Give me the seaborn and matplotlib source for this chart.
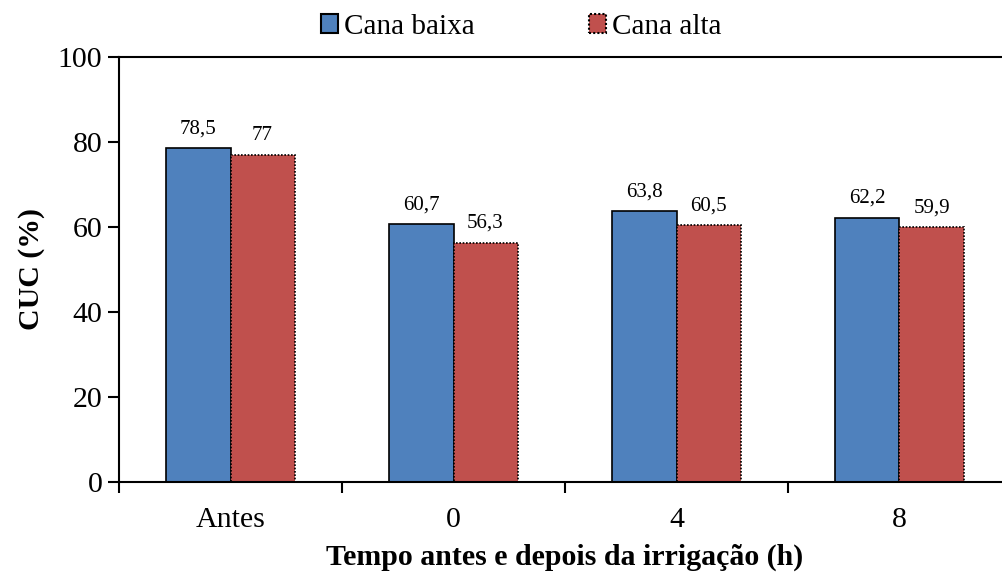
import numpy as np
import pandas as pd
import matplotlib
matplotlib.use("Agg")
import matplotlib.pyplot as plt
import seaborn as sns
from matplotlib.patches import Patch

# --- Data ---
categorias = ["Antes", "0", "4", "8"]
series = ["Cana baixa", "Cana alta"]
cana_baixa = [78.5, 60.7, 63.8, 62.2]
cana_alta = [77.0, 56.3, 60.5, 59.9]

df = pd.DataFrame({
    "tempo": categorias * 2,
    "serie": [series[0]] * 4 + [series[1]] * 4,
    "cuc": cana_baixa + cana_alta,
})

sns.set_theme(style="white")
plt.rcParams['font.family'] = ['Liberation Serif', 'DejaVu Serif']
plt.rcParams['text.color'] = 'black'
plt.rcParams['axes.labelcolor'] = 'black'
plt.rcParams['xtick.color'] = 'black'
plt.rcParams['ytick.color'] = 'black'

cores = {"Cana baixa": "#4f81bd", "Cana alta": "#c0504d"}

fig = plt.figure(figsize=(10.02, 5.72), dpi=100)
ax = fig.add_axes([119 / 1002, 90 / 572, 892 / 1002, 425 / 572])

sns.barplot(data=df, x="tempo", y="cuc", hue="serie", order=categorias,
            hue_order=series, palette=cores, width=0.574, gap=0,
            saturation=1, legend=False, ax=ax)

# contorno: continuo no azul, pontilhado no vermelho
for cont, s in zip(ax.containers, series):
    for p in cont:
        p.set_edgecolor("black")
        p.set_linewidth(1.2)
        if s == "Cana alta":
            p.set_linestyle((0, (1, 1)))
    labels = ["{:g}".format(v).replace(".", ",") for v in cont.datavalues]
    ax.bar_label(cont, labels=labels, padding=7, fontsize=15, color="black")

ax.set_xlim(-0.5, 3.5)
ax.set_ylim(0, 100)
ax.set_yticks([0, 20, 40, 60, 80, 100])
ax.set_xticks(np.arange(-0.5, 4, 1), minor=True)
ax.tick_params(axis="x", which="major", length=0, labelsize=21.5, pad=18)
ax.tick_params(axis="x", which="minor", length=8, width=1.5, direction="out", bottom=True)
ax.tick_params(axis="y", length=8, width=1.5, direction="out", left=True, labelsize=21.5, pad=4)

for side in ["left", "bottom", "top"]:
    ax.spines[side].set_visible(True)
    ax.spines[side].set_color("black")
    ax.spines[side].set_linewidth(1.5)
ax.spines["right"].set_visible(False)

ax.set_xlabel("Tempo antes e depois da irrigação (h)", fontsize=21.5, fontweight="bold", labelpad=8)
ax.set_ylabel("CUC (%)", fontsize=21.5, fontweight="bold", labelpad=9)

handles = [
    Patch(facecolor=cores["Cana baixa"], edgecolor="black", linewidth=1.5),
    Patch(facecolor=cores["Cana alta"], edgecolor="black", linewidth=1.5, linestyle=(0, (1, 1))),
]
fig.legend(handles, series, loc="center", bbox_to_anchor=(521 / 1002, 1 - 27 / 572),
           ncol=2, frameon=False, fontsize=21, handlelength=0.6, handleheight=0.6,
           handletextpad=0.2, columnspacing=3.9, borderpad=0)

fig.savefig("out.png", dpi=100)
